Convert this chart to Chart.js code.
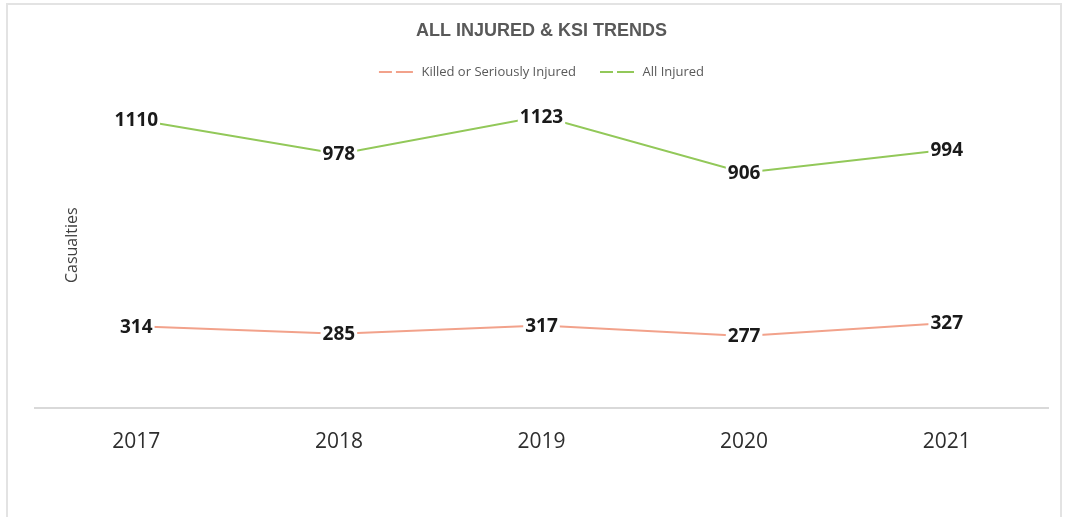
<!DOCTYPE html>
<html>
<head>
<meta charset="utf-8">
<title>All Injured & KSI Trends</title>
<script src="https://cdn.jsdelivr.net/npm/chart.js@4/dist/chart.umd.min.js"></script>
<style>
  html, body { margin: 0; padding: 0; background: #fff; }
  canvas { display: block; }
</style>
</head>
<body>
<canvas id="trendChart" width="1066" height="517"></canvas>
<script>
var years = ['2017', '2018', '2019', '2020', '2021'];
var ksi = [314, 285, 317, 277, 327];
var allInjured = [1110, 978, 1123, 906, 994];

var ksiColor = '#F2A28B';
var injuredColor = '#92C859';

// light frame round the whole chart
var framePlugin = {
    id: 'frame',
    beforeDraw: function (chart) {
        var ctx = chart.ctx;
        ctx.save();
        ctx.strokeStyle = '#e3e3e3';
        ctx.lineWidth = 2;
        ctx.beginPath();
        ctx.moveTo(7, chart.height);
        ctx.lineTo(7, 4);
        ctx.lineTo(chart.width - 5, 4);
        ctx.lineTo(chart.width - 5, chart.height);
        ctx.stroke();
        ctx.restore();
    }
};

// vertical axis caption, drawn inside the plot area like the original sheet
var axisCaption = {
    id: 'axisCaption',
    afterDraw: function (chart) {
        var ctx = chart.ctx;
        var area = chart.chartArea;
        ctx.save();
        ctx.translate(72, (area.top + area.bottom) / 2 - 3);
        ctx.rotate(-Math.PI / 2);
        ctx.font = '16px "Open Sans"';
        ctx.fillStyle = '#404040';
        ctx.textAlign = 'center';
        ctx.textBaseline = 'middle';
        ctx.fillText('Casualties', 0, 0);
        ctx.restore();
    }
};

// value labels sitting on the points, white boxes hide the line beneath
var valueLabels = {
    id: 'valueLabels',
    afterDatasetsDraw: function (chart) {
        var ctx = chart.ctx;
        ctx.save();
        ctx.font = 'bold 19px "Open Sans"';
        ctx.textAlign = 'center';
        ctx.textBaseline = 'middle';
        chart.data.datasets.forEach(function (ds, i) {
            var meta = chart.getDatasetMeta(i);
            meta.data.forEach(function (pt, j) {
                var txt = String(ds.data[j]);
                var w = ctx.measureText(txt).width + 4;
                ctx.fillStyle = '#fff';
                ctx.fillRect(pt.x - w / 2, pt.y - 10, w, 20);
                ctx.fillStyle = '#1a1a1a';
                ctx.fillText(txt, pt.x, pt.y + 1);
            });
        });
        ctx.restore();
    }
};

new Chart(document.getElementById('trendChart'), {
    type: 'line',
    data: {
        labels: years,
        datasets: [{
            label: 'Killed or Seriously Injured',
            data: ksi,
            borderColor: ksiColor,
            backgroundColor: ksiColor,
            borderWidth: 2,
            pointRadius: 0,
            tension: 0
        }, {
            label: 'All Injured',
            data: allInjured,
            borderColor: injuredColor,
            backgroundColor: injuredColor,
            borderWidth: 2,
            pointRadius: 0,
            tension: 0
        }]
    },
    options: {
        responsive: false,
        animation: false,
        layout: {
            padding: { left: 35, right: 18, top: 0, bottom: 48 }
        },
        scales: {
            x: {
                offset: true,
                grid: { display: false },
                border: { color: '#d9d9d9', width: 2 },
                ticks: {
                    color: '#2e2e2e',
                    font: { family: 'Open Sans', size: 21 },
                    padding: 14
                }
            },
            y: {
                display: false,
                min: 0,
                max: 1230
            }
        },
        plugins: {
            title: {
                display: true,
                text: 'ALL INJURED & KSI TRENDS',
                color: '#595959',
                font: { family: 'Liberation Sans', size: 18, weight: 'bold' },
                padding: { top: 20, bottom: 0 }
            },
            legend: {
                display: true,
                labels: {
                    color: '#595959',
                    font: { family: 'Open Sans', size: 13 },
                    boxWidth: 36,
                    boxHeight: 0,
                    padding: 24,
                    generateLabels: function (chart) {
                        return chart.data.datasets.map(function (ds, i) {
                            return {
                                text: ds.label,
                                fillStyle: 'rgba(0,0,0,0)',
                                strokeStyle: ds.borderColor,
                                lineWidth: 2,
                                lineDash: [13, 8],
                                fontColor: '#595959',
                                datasetIndex: i
                            };
                        });
                    }
                }
            },
            tooltip: { enabled: false }
        }
    },
    plugins: [framePlugin, axisCaption, valueLabels]
});
</script>
</body>
</html>
